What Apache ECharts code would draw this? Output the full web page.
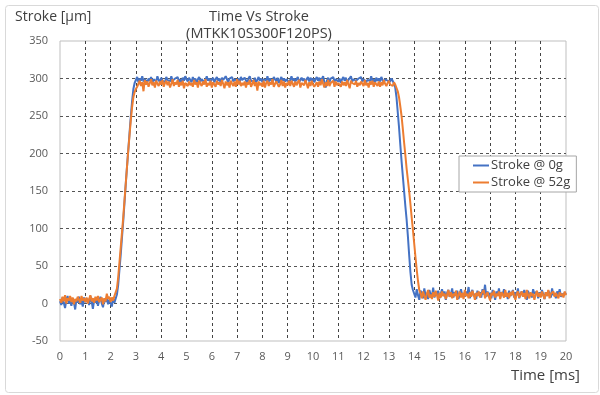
<!DOCTYPE html>
<html><head><meta charset="utf-8">
<script src="https://cdn.jsdelivr.net/npm/echarts@6/dist/echarts.min.js"></script>
<style>html,body{margin:0;padding:0;background:#fff}#c{width:600px;height:395px}</style>
</head><body><div id="c"></div>
<script>
const SAMPLE_MS = 0.05;
const seriesNames = ['Stroke @ 0g', 'Stroke @ 52g'];
const xTicks = [0,1,2,3,4,5,6,7,8,9,10,11,12,13,14,15,16,17,18,19,20];
const yTicks = [-50,0,50,100,150,200,250,300,350];

// Stroke @ 0g (µm), one sample every 0.05 ms from 0 to 20 ms
const stroke0g = [
 3,-2,8,1,-6,5,10,0,4,-3,
 7,2,-8,6,1,9,-1,4,-4,8,
 2,0,6,-2,10,3,-7,5,1,7,
 -3,4,9,0,-5,6,2,8,-1,5,
 3,-4,7,1,
 3,12,25,45,65,88,110,135,160,183,205,228,250,270,286,294,
 298,302,295,300,297,303,296,299,301,295,
 300,297,302,294,299,301,296,303,298,295,
 301,297,299,295,302,298,300,296,303,297,
 295,300,298,302,296,299,294,301,297,303,
 299,296,301,298,295,302,297,300,294,299,
 302,296,299,301,295,298,303,297,300,296,
 298,301,295,299,302,297,300,294,301,298,
 296,303,299,295,300,298,302,296,299,301,
 297,300,295,302,298,296,301,299,294,300,
 303,297,299,296,301,295,298,302,297,300,
 295,299,301,297,303,296,300,298,295,302,
 299,296,301,294,298,302,297,300,296,299,
 301,295,298,303,297,300,296,299,302,295,
 298,301,297,300,294,299,302,296,301,297,
 300,295,299,302,297,301,296,298,303,295,
 288,297,301,295,300,298,302,296,299,301,
 296,300,294,299,302,297,301,295,298,300,
 303,296,299,301,297,295,300,298,302,296,
 299,301,295,298,300,297,303,296,299,294,
 301,297,300,296,302,298,295,299,301,297,
 299,296,300,297,
 296,288,275,255,235,212,190,170,150,130,112,90,65,42,25,18,
 16,8,19,11,5,17,13,7,20,10,
 14,6,18,12,9,21,8,15,11,17,
 7,13,19,10,16,5,14,18,9,12,
 20,8,15,11,17,6,13,19,10,14,
 9,16,12,22,7,14,18,10,13,6,
 17,11,15,8,19,12,25,9,16,10,
 14,7,18,13,5,16,11,20,8,15,
 12,19,9,14,6,17,10,13,18,8,
 15,11,20,7,13,16,9,18,12,5,
 17,10,14,8,19,13,11,16,7,15,
 9,18,12,6,15,10,17,13,8,20,
 11,14,7,16,12,19,9,13,10,15,
 12
];

// Stroke @ 52g (µm), one sample every 0.05 ms from 0 to 20 ms
const stroke52g = [
 6,1,9,3,11,0,7,4,10,2,
 8,-1,6,3,9,5,1,10,4,7,
 2,8,0,6,11,3,7,1,9,4,
 10,2,5,8,-1,7,3,13,6,9,
 2,8,4,10,
 8,20,35,55,75,95,115,138,160,183,205,225,245,262,275,282,
 286,289,
 293,297,290,295,283,298,292,296,289,294,
 299,291,295,288,297,293,290,296,292,298,
 289,294,297,291,296,288,293,299,290,295,
 292,298,289,295,291,297,287,294,296,290,
 296,291,294,289,298,292,295,288,297,293,
 290,296,292,299,289,294,291,297,288,295,
 294,289,297,292,295,290,298,293,287,296,
 291,295,288,297,293,290,296,289,299,292,
 297,290,294,291,296,288,295,292,298,289,
 293,298,290,295,284,296,291,294,289,297,
 288,294,297,290,295,292,299,289,293,296,
 295,289,292,298,290,296,288,294,291,297,
 290,297,293,289,296,291,295,298,288,294,
 296,291,298,293,287,295,290,297,292,289,
 292,295,289,296,291,299,293,288,295,290,
 298,290,294,292,297,289,296,291,294,293,
 289,296,291,295,290,298,292,287,297,294,
 295,292,297,289,294,291,296,293,290,298,
 291,294,288,296,292,297,289,295,293,290,
 296,289,295,291,298,293,290,294,297,292,
 294,290,295,292,
 290,283,275,263,250,233,215,198,180,165,150,133,115,98,80,62,45,30,18,
 14,7,16,10,5,13,18,8,12,6,
 15,9,17,11,4,14,8,16,10,13,
 6,12,18,9,15,7,13,10,17,5,
 11,16,8,14,6,18,10,13,7,15,
 9,17,12,5,14,10,16,8,13,11,
 18,7,12,15,9,4,14,11,17,8,
 13,10,16,6,15,12,8,18,9,14,
 7,15,11,17,10,5,13,16,8,12,
 16,9,14,6,18,11,7,15,10,13,
 5,12,17,9,14,8,16,11,6,15,
 10,18,7,13,11,16,9,14,12,7,
 15,10,13,8,16,11
];

function pairs(arr){ return arr.map((v,i)=>[+(i*SAMPLE_MS).toFixed(2), v]); }

const font = '"Open Sans", "Noto Sans", sans-serif';
function label(x, y, text, size, align){
  return {type:'text', x:x, y:y, silent:true,
    style:{text:text, fill:'#404040', font:size+'px '+font, align:align, verticalAlign:'middle', textAlign:align, textVerticalAlign:'middle'}};
}
const chart = echarts.init(document.getElementById('c'), null, {renderer:'canvas'});
chart.setOption({
  animation:false,
  backgroundColor:'#fff',
  textStyle:{fontFamily:font},
  grid:{left:60, right:34, top:41, bottom:54, show:true, borderColor:'#bfbfbf', borderWidth:1},
  graphic:[
    {type:'rect', left:3, top:3, shape:{width:593, height:387, r:3}, style:{fill:'none', stroke:'#d9d9d9', lineWidth:1}, z:-10},
    label(259, 17, 'Time Vs Stroke', 14.5, 'center'),
    label(259, 34, '(MTKK10S300F120PS)', 14.5, 'center'),
    label(15, 17, 'Stroke [µm]', 14, 'left'),
    label(580, 376, 'Time [ms]', 15, 'right')
  ],
  legend:{
    data:seriesNames, orient:'vertical', left:459, top:156,
    backgroundColor:'#fff', borderColor:'#a6a6a6', borderWidth:1, borderRadius:0,
    padding:[2,6,2,14], itemGap:2, itemWidth:16, itemHeight:2, icon:'rect',
    textStyle:{fontSize:13, lineHeight:15, color:'#404040', fontFamily:font, padding:[0,0,0,-3]}
  },
  xAxis:{
    type:'value', min:xTicks[0], max:xTicks[xTicks.length-1], interval:1,
    axisLine:{show:false}, axisTick:{show:false},
    axisLabel:{color:'#595959', fontSize:11, margin:10, fontFamily:font},
    splitLine:{show:true, showMinLine:false, showMaxLine:false, lineStyle:{color:'#444', type:[3,3], width:1}}
  },
  yAxis:{
    type:'value', min:yTicks[0], max:yTicks[yTicks.length-1], interval:50,
    axisLine:{show:false}, axisTick:{show:false},
    axisLabel:{color:'#595959', fontSize:11, margin:12, fontFamily:font},
    splitLine:{show:true, showMinLine:false, showMaxLine:false, lineStyle:{color:'#555', type:[3,3], width:1}}
  },
  series:[
    {name:seriesNames[0], type:'line', data:pairs(stroke0g), showSymbol:false, color:'#4472C4', lineStyle:{width:2, color:'#4472C4'}, z:2},
    {name:seriesNames[1], type:'line', data:pairs(stroke52g), showSymbol:false, color:'#ED7D31', lineStyle:{width:2, color:'#ED7D31'}, z:3}
  ]
});
</script></body></html>
